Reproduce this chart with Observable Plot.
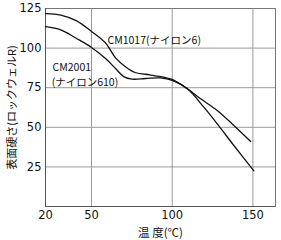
<!DOCTYPE html>
<html>
<head>
<meta charset="utf-8">
<script src="https://cdn.jsdelivr.net/npm/d3@7"></script>
<script src="https://cdn.jsdelivr.net/npm/@observablehq/plot@0.6"></script>
<style>
  html, body { margin: 0; padding: 0; background: #fff; }
  #chart svg { display: block; font-family: "Noto Sans CJK JP", sans-serif; }
</style>
</head>
<body>
<div id="chart"></div>
<script>
// Series: CM1017 (ナイロン6)
const cm1017Temp = [20, 30, 40, 50, 58.7, 64.9, 71, 77, 83.5, 92.9, 100, 109.4, 117.6, 127.9, 138.2, 148.6];
const cm1017Hard = [121.8, 120.8, 117.3, 110.5, 103.2, 93.8, 88.2, 84.6, 83.5, 82.0, 80.2, 74.3, 68.0, 60.6, 51.1, 41.0];
// Series: CM2001 (ナイロン610)
const cm2001Temp = [20, 30, 40, 50, 58.7, 64.9, 70, 75.2, 83.5, 92.9, 100, 109.4, 119.6, 127.9, 138.2, 150.6];
const cm2001Hard = [113.5, 111.5, 106.2, 100.4, 93.4, 87.1, 82.0, 80.4, 80.8, 81.2, 79.6, 74.3, 62.7, 52.2, 38.5, 22.5];

// Axis ticks
const xTicks = [20, 50, 100, 150];
const yTicks = [25, 50, 75, 100, 125];
const xGrid = [50, 100, 150];
const yGrid = [25, 50, 75, 100];

// Labels
const labelText = ["CM1017(ナイロン6)", "CM2001", "(ナイロン610)"];
const labelTemp = [59.9, 24.6, 24.0];
const labelHard = [104.8, 87.6, 78.0];

const toRows = (t, h) => t.map((v, i) => ({t: v, h: h[i]}));
const s1 = toRows(cm1017Temp, cm1017Hard);
const s2 = toRows(cm2001Temp, cm2001Hard);
const labels = labelText.map((s, i) => ({s, t: labelTemp[i], h: labelHard[i]}));

const chart = Plot.plot({
  width: 281,
  height: 240,
  marginLeft: 45,
  marginRight: 6,
  marginTop: 8,
  marginBottom: 34,
  style: {fontFamily: "'Noto Sans CJK JP', sans-serif", fontSize: "12px", color: "#111", background: "#fff"},
  x: {type: "linear", domain: [20, 50, 164], range: [45, 91, 275]},
  y: {domain: [0, 125]},
  marks: [
    Plot.gridX(xGrid, {stroke: "#9a9a9a", strokeOpacity: 1}),
    Plot.gridY(yGrid, {stroke: "#9a9a9a", strokeOpacity: 1}),
    Plot.frame({stroke: "#777"}),
    Plot.axisX({ticks: xTicks, tickSize: 0, tickPadding: 4, fontSize: 11.5, fontFamily: "'DejaVu Sans', sans-serif", label: null}),
    Plot.axisX({ticks: [], tickSize: 0, label: "温 度(℃)", fontSize: 11.5, labelAnchor: "center", labelArrow: "none", labelOffset: 30}),
    Plot.axisY({ticks: yTicks, tickSize: 0, tickPadding: 4, fontSize: 11.5, fontFamily: "'DejaVu Sans', sans-serif", label: null}),
    Plot.axisY({ticks: [], tickSize: 0, label: "表面硬さ(ロックウェルR)", fontSize: 11, labelAnchor: "center", labelArrow: "none", labelOffset: 37}),
    Plot.ruleX([20], {stroke: "#555"}),
    Plot.ruleY([0], {stroke: "#555"}),
    Plot.line(s1, {x: "t", y: "h", stroke: "#111", strokeWidth: 1.3, curve: "catmull-rom"}),
    Plot.line(s2, {x: "t", y: "h", stroke: "#111", strokeWidth: 1.3, curve: "catmull-rom"}),
    Plot.text(labels, {x: "t", y: "h", text: "s", textAnchor: "start", fontSize: 10.5, fill: "#111"})
  ]
});
document.getElementById("chart").appendChild(chart);
</script>
</body>
</html>
